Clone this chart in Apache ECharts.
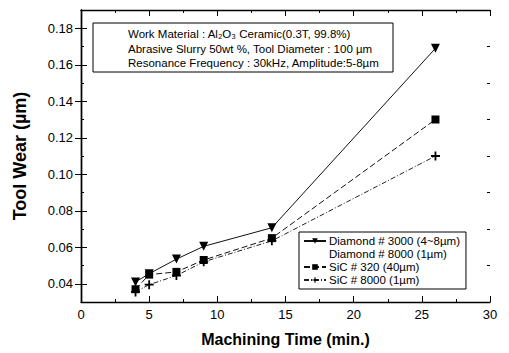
<!DOCTYPE html>
<html>
<head>
<meta charset="utf-8">
<script src="https://cdn.jsdelivr.net/npm/echarts@6/dist/echarts.min.js"></script>
<style>html,body{margin:0;padding:0;background:#fff}#c{width:509px;height:353px}</style>
</head>
<body>
<div id="c"></div>
<script>
// ---- data ----
const timeMin = [4, 5, 7, 9, 14, 26];
const diamond3000 = [0.041, 0.0455, 0.0535, 0.0605, 0.0707, 0.169];
const diamond8000 = [];
const sic320 = [0.037, 0.045, 0.0465, 0.053, 0.065, 0.130];
const sic8000 = [0.0355, 0.0395, 0.0445, 0.052, 0.0635, 0.110];
const seriesNames = ['Diamond # 3000 (4~8µm)', 'Diamond # 8000 (1µm)', 'SiC # 320 (40µm)', 'SiC # 8000 (1µm)'];
const yTickValues = [0.04, 0.06, 0.08, 0.10, 0.12, 0.14, 0.16, 0.18];
const yMinorTickValues = [0.03, 0.05, 0.07, 0.09, 0.11, 0.13, 0.15, 0.17, 0.19];
const xTickLabels = [0, 5, 10, 15, 20, 25, 30];
const noteLines = ['Work Material : Al₂O₃ Ceramic(0.3T, 99.8%)', 'Abrasive Slurry 50wt %, Tool Diameter : 100 µm', 'Resonance Frequency : 30kHz, Amplitude:5-8µm'];

const FONT = 'Liberation Sans, Arial, sans-serif';
const pair = (xs, ys) => ys.map((v, i) => [xs[i], v]);
const plusPath = 'path://M4,0h2v4h4v2h-4v4h-2v-4h-4v-2h4z';

const chart = echarts.init(document.getElementById('c'), null, {renderer: 'svg'});
const axisLine = {show: true, lineStyle: {color: '#000', width: 1.4}};

const yBase = {type: 'value', min: 0.03, max: 0.19, splitLine: {show: false}};

const option = {
  animation: false,
  backgroundColor: '#fff',
  grid: {left: 81, right: 19, top: 10, bottom: 51},
  xAxis: [
    {type: 'value', min: 0, max: 30, interval: 5, position: 'bottom',
     axisLine: axisLine, splitLine: {show: false},
     axisTick: {inside: true, length: 6, lineStyle: {color: '#000'}},
     minorTick: {show: true, splitNumber: 2, length: 3, lineStyle: {color: '#000'}},
     axisLabel: {color: '#000', fontFamily: FONT, fontSize: 13, margin: 6,
       formatter: v => xTickLabels.includes(v) ? String(v) : ''},
     name: 'Machining Time (min.)', nameLocation: 'middle', nameGap: 29,
     nameTextStyle: {color: '#000', fontFamily: FONT, fontSize: 16, fontWeight: 'bold'}},
    {type: 'value', min: 0, max: 30, interval: 5, position: 'top',
     axisLine: axisLine, splitLine: {show: false},
     axisTick: {inside: true, length: 6, lineStyle: {color: '#000'}},
     minorTick: {show: true, splitNumber: 2, length: 3, lineStyle: {color: '#000'}},
     axisLabel: {show: false}}
  ],
  yAxis: [
    Object.assign({}, yBase, {position: 'left',
     axisLine: axisLine,
     axisTick: {inside: true, length: 6, customValues: yTickValues, lineStyle: {color: '#000'}},
     axisLabel: {color: '#000', fontFamily: FONT, fontSize: 13, margin: 8,
       customValues: yTickValues, formatter: v => v.toFixed(2)},
     name: 'Tool Wear (µm)', nameLocation: 'middle', nameGap: 52,
     nameTextStyle: {color: '#000', fontFamily: FONT, fontSize: 18, fontWeight: 'bold'}}),
    Object.assign({}, yBase, {position: 'right',
     axisLine: axisLine,
     axisTick: {inside: true, length: 6, customValues: yTickValues, lineStyle: {color: '#000'}},
     axisLabel: {show: false}}),
    Object.assign({}, yBase, {position: 'left',
     axisLine: {show: false},
     axisTick: {inside: true, length: 3, customValues: yMinorTickValues, lineStyle: {color: '#000'}},
     axisLabel: {show: false}}),
    Object.assign({}, yBase, {position: 'right',
     axisLine: {show: false},
     axisTick: {inside: true, length: 3, customValues: yMinorTickValues, lineStyle: {color: '#000'}},
     axisLabel: {show: false}})
  ],
  legend: {
    orient: 'vertical', left: 299, top: 232,
    backgroundColor: '#fff', borderColor: '#000', borderWidth: 1,
    padding: [3, 6, 3, 4], itemGap: 1, itemWidth: 22, itemHeight: 7,
    textStyle: {color: '#000', fontFamily: FONT, fontSize: 11.5, padding: [0, 0, 0, -2]},
    data: [
      {name: seriesNames[0]},
      {name: seriesNames[1], icon: 'none'},
      {name: seriesNames[2]},
      {name: seriesNames[3]}
    ]
  },
  graphic: [
    {type: 'rect', shape: {x: 93, y: 23, width: 300, height: 49},
     style: {fill: '#fff', stroke: '#000', lineWidth: 1}, z: 10},
    {type: 'text', left: 128, top: 27, z: 11,
     style: {text: noteLines.join('\n'), fill: '#000', font: '11.5px ' + FONT, lineHeight: 14.5}}
  ],
  series: [
    {name: seriesNames[0], type: 'line', data: pair(timeMin, diamond3000),
     symbol: 'triangle', symbolRotate: 180, symbolSize: 9,
     lineStyle: {color: '#111', width: 1}, itemStyle: {color: '#000'}},
    {name: seriesNames[1], type: 'line', data: diamond8000, symbol: 'none',
     lineStyle: {color: 'transparent', width: 0}, itemStyle: {color: 'transparent'}},
    {name: seriesNames[2], type: 'line', data: pair(timeMin, sic320),
     symbol: 'rect', symbolSize: 8,
     lineStyle: {color: '#111', width: 1, type: [6, 3]}, itemStyle: {color: '#000'}},
    {name: seriesNames[3], type: 'line', data: pair(timeMin, sic8000),
     symbol: plusPath, symbolSize: 9,
     lineStyle: {color: '#222', width: 1, type: [5, 2, 1, 2]}, itemStyle: {color: '#000'}}
  ]
};
chart.setOption(option);
</script>
</body>
</html>
